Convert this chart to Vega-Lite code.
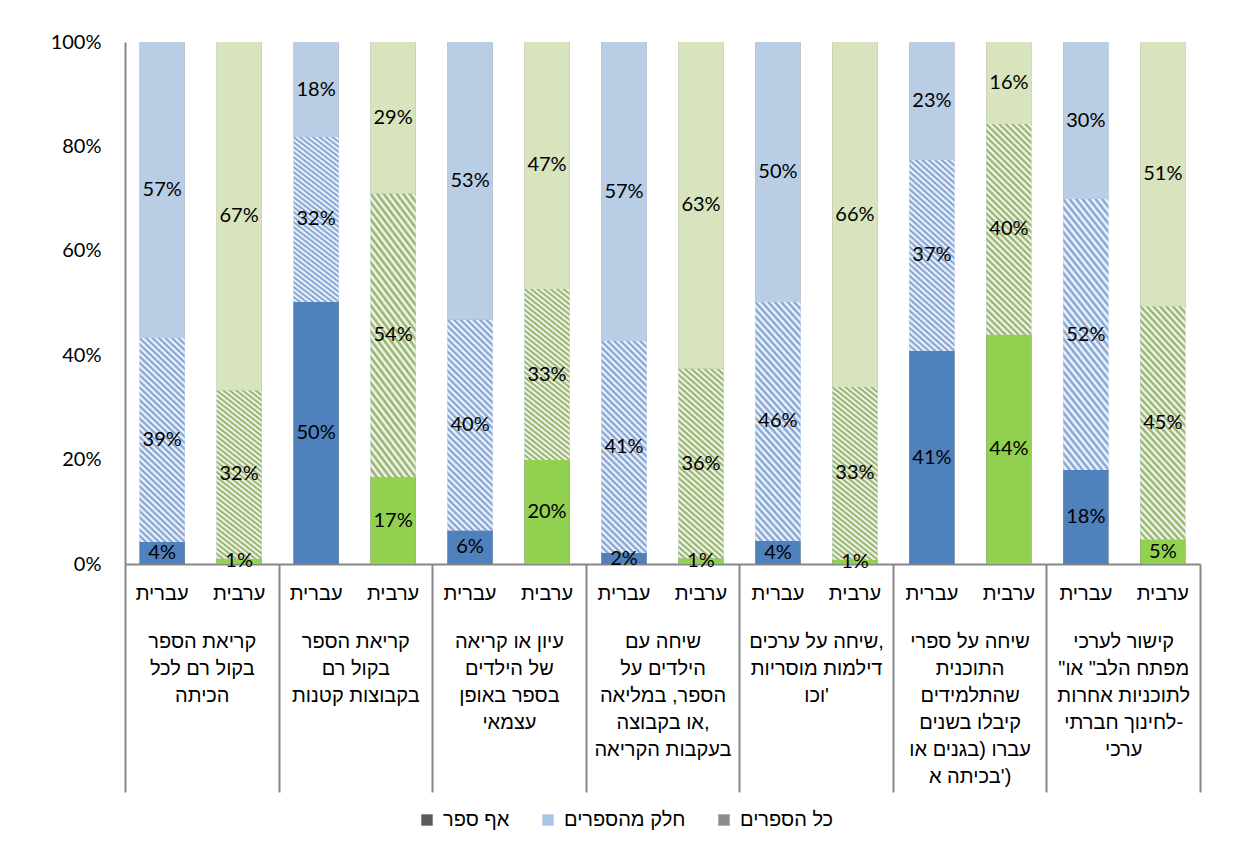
{
"$schema": "https://vega.github.io/schema/vega-lite/v6.json",
"width": 1075, "height": 522,
"autosize": {"type": "none"},
"padding": {"left": 125, "top": 42, "right": 45, "bottom": 290},
"background": "white",
"config": {"view": {"stroke": null}, "font": "Liberation Sans"},
"data": {"values": [
{"grp":"קריאת הספר|בקול רם לכל|הכיתה","bar":"1 עברית","lang":"עברית","seg":"אף ספר","value":0.042},
{"grp":"קריאת הספר|בקול רם לכל|הכיתה","bar":"1 עברית","lang":"עברית","seg":"חלק מהספרים","value":0.391},
{"grp":"קריאת הספר|בקול רם לכל|הכיתה","bar":"1 עברית","lang":"עברית","seg":"כל הספרים","value":0.567},
{"grp":"קריאת הספר|בקול רם לכל|הכיתה","bar":"1 ערבית","lang":"ערבית","seg":"אף ספר","value":0.010},
{"grp":"קריאת הספר|בקול רם לכל|הכיתה","bar":"1 ערבית","lang":"ערבית","seg":"חלק מהספרים","value":0.323},
{"grp":"קריאת הספר|בקול רם לכל|הכיתה","bar":"1 ערבית","lang":"ערבית","seg":"כל הספרים","value":0.667},
{"grp":"קריאת הספר|בקול רם|בקבוצות קטנות","bar":"2 עברית","lang":"עברית","seg":"אף ספר","value":0.502},
{"grp":"קריאת הספר|בקול רם|בקבוצות קטנות","bar":"2 עברית","lang":"עברית","seg":"חלק מהספרים","value":0.316},
{"grp":"קריאת הספר|בקול רם|בקבוצות קטנות","bar":"2 עברית","lang":"עברית","seg":"כל הספרים","value":0.182},
{"grp":"קריאת הספר|בקול רם|בקבוצות קטנות","bar":"2 ערבית","lang":"ערבית","seg":"אף ספר","value":0.166},
{"grp":"קריאת הספר|בקול רם|בקבוצות קטנות","bar":"2 ערבית","lang":"ערבית","seg":"חלק מהספרים","value":0.544},
{"grp":"קריאת הספר|בקול רם|בקבוצות קטנות","bar":"2 ערבית","lang":"ערבית","seg":"כל הספרים","value":0.290},
{"grp":"עיון או קריאה|של הילדים|בספר באופן|עצמאי","bar":"3 עברית","lang":"עברית","seg":"אף ספר","value":0.064},
{"grp":"עיון או קריאה|של הילדים|בספר באופן|עצמאי","bar":"3 עברית","lang":"עברית","seg":"חלק מהספרים","value":0.404},
{"grp":"עיון או קריאה|של הילדים|בספר באופן|עצמאי","bar":"3 עברית","lang":"עברית","seg":"כל הספרים","value":0.532},
{"grp":"עיון או קריאה|של הילדים|בספר באופן|עצמאי","bar":"3 ערבית","lang":"ערבית","seg":"אף ספר","value":0.199},
{"grp":"עיון או קריאה|של הילדים|בספר באופן|עצמאי","bar":"3 ערבית","lang":"ערבית","seg":"חלק מהספרים","value":0.328},
{"grp":"עיון או קריאה|של הילדים|בספר באופן|עצמאי","bar":"3 ערבית","lang":"ערבית","seg":"כל הספרים","value":0.473},
{"grp":"שיחה עם|הילדים על|הספר, במליאה|או בקבוצה,|בעקבות הקריאה","bar":"4 עברית","lang":"עברית","seg":"אף ספר","value":0.021},
{"grp":"שיחה עם|הילדים על|הספר, במליאה|או בקבוצה,|בעקבות הקריאה","bar":"4 עברית","lang":"עברית","seg":"חלק מהספרים","value":0.406},
{"grp":"שיחה עם|הילדים על|הספר, במליאה|או בקבוצה,|בעקבות הקריאה","bar":"4 עברית","lang":"עברית","seg":"כל הספרים","value":0.573},
{"grp":"שיחה עם|הילדים על|הספר, במליאה|או בקבוצה,|בעקבות הקריאה","bar":"4 ערבית","lang":"ערבית","seg":"אף ספר","value":0.011},
{"grp":"שיחה עם|הילדים על|הספר, במליאה|או בקבוצה,|בעקבות הקריאה","bar":"4 ערבית","lang":"ערבית","seg":"חלק מהספרים","value":0.363},
{"grp":"שיחה עם|הילדים על|הספר, במליאה|או בקבוצה,|בעקבות הקריאה","bar":"4 ערבית","lang":"ערבית","seg":"כל הספרים","value":0.626},
{"grp":"שיחה על ערכים,|דילמות מוסריות|וכו'","bar":"5 עברית","lang":"עברית","seg":"אף ספר","value":0.044},
{"grp":"שיחה על ערכים,|דילמות מוסריות|וכו'","bar":"5 עברית","lang":"עברית","seg":"חלק מהספרים","value":0.458},
{"grp":"שיחה על ערכים,|דילמות מוסריות|וכו'","bar":"5 עברית","lang":"עברית","seg":"כל הספרים","value":0.498},
{"grp":"שיחה על ערכים,|דילמות מוסריות|וכו'","bar":"5 ערבית","lang":"ערבית","seg":"אף ספר","value":0.008},
{"grp":"שיחה על ערכים,|דילמות מוסריות|וכו'","bar":"5 ערבית","lang":"ערבית","seg":"חלק מהספרים","value":0.331},
{"grp":"שיחה על ערכים,|דילמות מוסריות|וכו'","bar":"5 ערבית","lang":"ערבית","seg":"כל הספרים","value":0.661},
{"grp":"שיחה על ספרי|התוכנית|שהתלמידים|קיבלו בשנים|עברו (בגנים או|בכיתה א')","bar":"6 עברית","lang":"עברית","seg":"אף ספר","value":0.408},
{"grp":"שיחה על ספרי|התוכנית|שהתלמידים|קיבלו בשנים|עברו (בגנים או|בכיתה א')","bar":"6 עברית","lang":"עברית","seg":"חלק מהספרים","value":0.366},
{"grp":"שיחה על ספרי|התוכנית|שהתלמידים|קיבלו בשנים|עברו (בגנים או|בכיתה א')","bar":"6 עברית","lang":"עברית","seg":"כל הספרים","value":0.226},
{"grp":"שיחה על ספרי|התוכנית|שהתלמידים|קיבלו בשנים|עברו (בגנים או|בכיתה א')","bar":"6 ערבית","lang":"ערבית","seg":"אף ספר","value":0.439},
{"grp":"שיחה על ספרי|התוכנית|שהתלמידים|קיבלו בשנים|עברו (בגנים או|בכיתה א')","bar":"6 ערבית","lang":"ערבית","seg":"חלק מהספרים","value":0.404},
{"grp":"שיחה על ספרי|התוכנית|שהתלמידים|קיבלו בשנים|עברו (בגנים או|בכיתה א')","bar":"6 ערבית","lang":"ערבית","seg":"כל הספרים","value":0.157},
{"grp":"קישור לערכי|\"מפתח הלב\" או|לתוכניות אחרות|לחינוך חברתי-|ערכי","bar":"7 עברית","lang":"עברית","seg":"אף ספר","value":0.180},
{"grp":"קישור לערכי|\"מפתח הלב\" או|לתוכניות אחרות|לחינוך חברתי-|ערכי","bar":"7 עברית","lang":"עברית","seg":"חלק מהספרים","value":0.519},
{"grp":"קישור לערכי|\"מפתח הלב\" או|לתוכניות אחרות|לחינוך חברתי-|ערכי","bar":"7 עברית","lang":"עברית","seg":"כל הספרים","value":0.301},
{"grp":"קישור לערכי|\"מפתח הלב\" או|לתוכניות אחרות|לחינוך חברתי-|ערכי","bar":"7 ערבית","lang":"ערבית","seg":"אף ספר","value":0.047},
{"grp":"קישור לערכי|\"מפתח הלב\" או|לתוכניות אחרות|לחינוך חברתי-|ערכי","bar":"7 ערבית","lang":"ערבית","seg":"חלק מהספרים","value":0.447},
{"grp":"קישור לערכי|\"מפתח הלב\" או|לתוכניות אחרות|לחינוך חברתי-|ערכי","bar":"7 ערבית","lang":"ערבית","seg":"כל הספרים","value":0.506}
]},
"layer": [
{"layer": [
{"mark": {"type": "bar"},
 "encoding": {
  "x": {"field": "bar", "type": "nominal", "sort": null, "scale": {"paddingInner": 0.415, "paddingOuter": 0.19},
        "axis": {"title": null, "orient": "bottom", "labelExpr": "split(datum.label, ' ')[1]", "labelAngle": 0, "ticks": false, "domainColor": "#868686", "domainWidth": 2, "labelFont": "Liberation Sans", "labelFontSize": 20, "labelColor": "#000000", "labelPadding": 19, "labelOverlap": false}},
  "y": {"field": "value", "type": "quantitative", "stack": "normalize", "scale": {"domain": [0, 1]},
        "axis": {"title": null, "format": ".0%", "values": [0, 0.2, 0.4, 0.6, 0.8, 1], "grid": false, "ticks": false, "domainColor": "#868686", "domainWidth": 2, "labelFont": "Lato", "labelFontSize": 20, "labelColor": "#000000", "labelPadding": 24}},
  "color": {"field": "seg", "type": "nominal",
            "scale": {"domain": ["אף ספר", "חלק מהספרים", "כל הספרים"], "range": ["#595959", "#A9C4E6", "#8C8C8C"]},
            "legend": {"title": null, "orient": "none", "legendX": 292, "legendY": 768, "direction": "horizontal", "symbolType": "square", "symbolSize": 130, "symbolStrokeWidth": 0, "labelFont": "Liberation Sans", "labelFontSize": 20, "labelColor": "#000000", "columnPadding": 28, "labelOffset": 6}},
  "order": {"field": "seg", "sort": "ascending"}
 }},
{"mark": {"type": "bar"},
 "encoding": {
  "x": {"field": "bar", "type": "nominal", "sort": null},
  "y": {"field": "value", "type": "quantitative", "stack": "normalize"},
  "detail": {"field": "seg"},
  "order": {"field": "seg", "sort": "ascending"},
  "fill": {"condition": [
    {"test": "datum.lang === 'עברית' && datum.seg === 'אף ספר'", "value": "#4F81BD"},
    {"test": "datum.lang === 'עברית' && datum.seg === 'כל הספרים'", "value": "#B9CDE5"},
    {"test": "datum.lang === 'ערבית' && datum.seg === 'אף ספר'", "value": "#92D050"},
    {"test": "datum.lang === 'עברית' && datum.seg === 'חלק מהספרים'", "value": {"gradient": "linear", "x1": 0, "y1": 1, "x2": 0.244, "y2": -0.16, "stops": [
{"offset":0,"color":"#7499CF"},{"offset":0.0125,"color":"#ffffff"},{"offset":0.025,"color":"#7499CF"},{"offset":0.0375,"color":"#ffffff"},{"offset":0.05,"color":"#7499CF"},{"offset":0.0625,"color":"#ffffff"},{"offset":0.075,"color":"#7499CF"},{"offset":0.0875,"color":"#ffffff"},{"offset":0.1,"color":"#7499CF"},{"offset":0.1125,"color":"#ffffff"},{"offset":0.125,"color":"#7499CF"},{"offset":0.1375,"color":"#ffffff"},{"offset":0.15,"color":"#7499CF"},{"offset":0.1625,"color":"#ffffff"},{"offset":0.175,"color":"#7499CF"},{"offset":0.1875,"color":"#ffffff"},{"offset":0.2,"color":"#7499CF"},{"offset":0.2125,"color":"#ffffff"},{"offset":0.225,"color":"#7499CF"},{"offset":0.2375,"color":"#ffffff"},{"offset":0.25,"color":"#7499CF"},{"offset":0.2625,"color":"#ffffff"},{"offset":0.275,"color":"#7499CF"},{"offset":0.2875,"color":"#ffffff"},{"offset":0.3,"color":"#7499CF"},{"offset":0.3125,"color":"#ffffff"},{"offset":0.325,"color":"#7499CF"},{"offset":0.3375,"color":"#ffffff"},{"offset":0.35,"color":"#7499CF"},{"offset":0.3625,"color":"#ffffff"},{"offset":0.375,"color":"#7499CF"},{"offset":0.3875,"color":"#ffffff"},{"offset":0.4,"color":"#7499CF"},{"offset":0.4125,"color":"#ffffff"},{"offset":0.425,"color":"#7499CF"},{"offset":0.4375,"color":"#ffffff"},{"offset":0.45,"color":"#7499CF"},{"offset":0.4625,"color":"#ffffff"},{"offset":0.475,"color":"#7499CF"},{"offset":0.4875,"color":"#ffffff"},{"offset":0.5,"color":"#7499CF"},{"offset":0.5125,"color":"#ffffff"},{"offset":0.525,"color":"#7499CF"},{"offset":0.5375,"color":"#ffffff"},{"offset":0.55,"color":"#7499CF"},{"offset":0.5625,"color":"#ffffff"},{"offset":0.575,"color":"#7499CF"},{"offset":0.5875,"color":"#ffffff"},{"offset":0.6,"color":"#7499CF"},{"offset":0.6125,"color":"#ffffff"},{"offset":0.625,"color":"#7499CF"},{"offset":0.6375,"color":"#ffffff"},{"offset":0.65,"color":"#7499CF"},{"offset":0.6625,"color":"#ffffff"},{"offset":0.675,"color":"#7499CF"},{"offset":0.6875,"color":"#ffffff"},{"offset":0.7,"color":"#7499CF"},{"offset":0.7125,"color":"#ffffff"},{"offset":0.725,"color":"#7499CF"},{"offset":0.7375,"color":"#ffffff"},{"offset":0.75,"color":"#7499CF"},{"offset":0.7625,"color":"#ffffff"},{"offset":0.775,"color":"#7499CF"},{"offset":0.7875,"color":"#ffffff"},{"offset":0.8,"color":"#7499CF"},{"offset":0.8125,"color":"#ffffff"},{"offset":0.825,"color":"#7499CF"},{"offset":0.8375,"color":"#ffffff"},{"offset":0.85,"color":"#7499CF"},{"offset":0.8625,"color":"#ffffff"},{"offset":0.875,"color":"#7499CF"},{"offset":0.8875,"color":"#ffffff"},{"offset":0.9,"color":"#7499CF"},{"offset":0.9125,"color":"#ffffff"},{"offset":0.925,"color":"#7499CF"},{"offset":0.9375,"color":"#ffffff"},{"offset":0.95,"color":"#7499CF"},{"offset":0.9625,"color":"#ffffff"},{"offset":0.975,"color":"#7499CF"},{"offset":0.9875,"color":"#ffffff"},{"offset":1,"color":"#7499CF"}]}},
    {"test": "datum.lang === 'ערבית' && datum.seg === 'חלק מהספרים'", "value": {"gradient": "linear", "x1": 0, "y1": 1, "x2": 0.244, "y2": -0.16, "stops": [
{"offset":0,"color":"#8AAA5A"},{"offset":0.0125,"color":"#ffffff"},{"offset":0.025,"color":"#8AAA5A"},{"offset":0.0375,"color":"#ffffff"},{"offset":0.05,"color":"#8AAA5A"},{"offset":0.0625,"color":"#ffffff"},{"offset":0.075,"color":"#8AAA5A"},{"offset":0.0875,"color":"#ffffff"},{"offset":0.1,"color":"#8AAA5A"},{"offset":0.1125,"color":"#ffffff"},{"offset":0.125,"color":"#8AAA5A"},{"offset":0.1375,"color":"#ffffff"},{"offset":0.15,"color":"#8AAA5A"},{"offset":0.1625,"color":"#ffffff"},{"offset":0.175,"color":"#8AAA5A"},{"offset":0.1875,"color":"#ffffff"},{"offset":0.2,"color":"#8AAA5A"},{"offset":0.2125,"color":"#ffffff"},{"offset":0.225,"color":"#8AAA5A"},{"offset":0.2375,"color":"#ffffff"},{"offset":0.25,"color":"#8AAA5A"},{"offset":0.2625,"color":"#ffffff"},{"offset":0.275,"color":"#8AAA5A"},{"offset":0.2875,"color":"#ffffff"},{"offset":0.3,"color":"#8AAA5A"},{"offset":0.3125,"color":"#ffffff"},{"offset":0.325,"color":"#8AAA5A"},{"offset":0.3375,"color":"#ffffff"},{"offset":0.35,"color":"#8AAA5A"},{"offset":0.3625,"color":"#ffffff"},{"offset":0.375,"color":"#8AAA5A"},{"offset":0.3875,"color":"#ffffff"},{"offset":0.4,"color":"#8AAA5A"},{"offset":0.4125,"color":"#ffffff"},{"offset":0.425,"color":"#8AAA5A"},{"offset":0.4375,"color":"#ffffff"},{"offset":0.45,"color":"#8AAA5A"},{"offset":0.4625,"color":"#ffffff"},{"offset":0.475,"color":"#8AAA5A"},{"offset":0.4875,"color":"#ffffff"},{"offset":0.5,"color":"#8AAA5A"},{"offset":0.5125,"color":"#ffffff"},{"offset":0.525,"color":"#8AAA5A"},{"offset":0.5375,"color":"#ffffff"},{"offset":0.55,"color":"#8AAA5A"},{"offset":0.5625,"color":"#ffffff"},{"offset":0.575,"color":"#8AAA5A"},{"offset":0.5875,"color":"#ffffff"},{"offset":0.6,"color":"#8AAA5A"},{"offset":0.6125,"color":"#ffffff"},{"offset":0.625,"color":"#8AAA5A"},{"offset":0.6375,"color":"#ffffff"},{"offset":0.65,"color":"#8AAA5A"},{"offset":0.6625,"color":"#ffffff"},{"offset":0.675,"color":"#8AAA5A"},{"offset":0.6875,"color":"#ffffff"},{"offset":0.7,"color":"#8AAA5A"},{"offset":0.7125,"color":"#ffffff"},{"offset":0.725,"color":"#8AAA5A"},{"offset":0.7375,"color":"#ffffff"},{"offset":0.75,"color":"#8AAA5A"},{"offset":0.7625,"color":"#ffffff"},{"offset":0.775,"color":"#8AAA5A"},{"offset":0.7875,"color":"#ffffff"},{"offset":0.8,"color":"#8AAA5A"},{"offset":0.8125,"color":"#ffffff"},{"offset":0.825,"color":"#8AAA5A"},{"offset":0.8375,"color":"#ffffff"},{"offset":0.85,"color":"#8AAA5A"},{"offset":0.8625,"color":"#ffffff"},{"offset":0.875,"color":"#8AAA5A"},{"offset":0.8875,"color":"#ffffff"},{"offset":0.9,"color":"#8AAA5A"},{"offset":0.9125,"color":"#ffffff"},{"offset":0.925,"color":"#8AAA5A"},{"offset":0.9375,"color":"#ffffff"},{"offset":0.95,"color":"#8AAA5A"},{"offset":0.9625,"color":"#ffffff"},{"offset":0.975,"color":"#8AAA5A"},{"offset":0.9875,"color":"#ffffff"},{"offset":1,"color":"#8AAA5A"}]}}
   ], "value": "#D7E4BD"}
 }},
{"mark": {"type": "text", "font": "Lato", "fontSize": 20, "color": "#000000", "baseline": "middle"},
 "encoding": {
  "x": {"field": "bar", "type": "nominal", "sort": null},
  "y": {"field": "value", "type": "quantitative", "stack": "normalize", "bandPosition": 0.5},
  "detail": {"field": "seg"},
  "order": {"field": "seg", "sort": "ascending"},
  "text": {"field": "value", "type": "quantitative", "format": ".0%"}
 }}
]},
{"mark": {"type": "rule", "strokeOpacity": 0},
 "encoding": {
  "x": {"field": "grp", "type": "nominal", "sort": null, "scale": {"paddingInner": 0, "paddingOuter": 0},
        "axis": {"title": null, "orient": "bottom", "domain": false, "ticks": true, "tickBand": "extent", "tickSize": 228, "tickColor": "#868686", "tickWidth": 2, "labelExpr": "split(datum.label, '|')", "labelAngle": 0, "labelAlign": "center", "labelBaseline": "top", "labelFont": "Liberation Sans", "labelFontSize": 20, "labelLineHeight": 27, "labelColor": "#000000", "labelPadding": -161, "labelOverlap": false, "labelLimit": 0, "labelBound": false}}
 }}
],
"resolve": {"scale": {"x": "independent"}, "axis": {"x": "independent"}}
}
